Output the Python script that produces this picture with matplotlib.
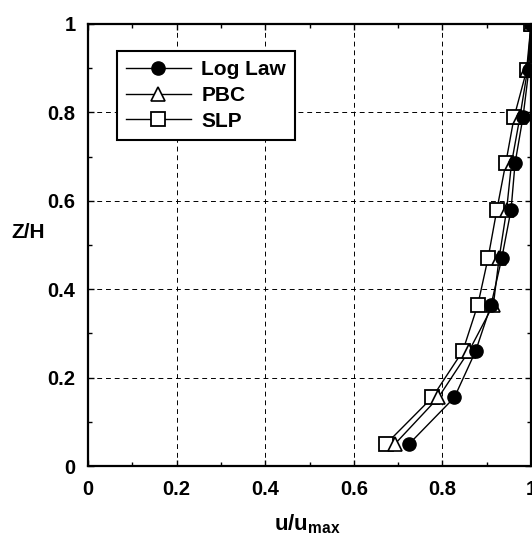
import matplotlib
matplotlib.use('Agg')
import matplotlib.pyplot as plt
from matplotlib.ticker import MultipleLocator

plt.rcParams['font.family'] = ['Liberation Sans', 'DejaVu Sans']
plt.rcParams['font.weight'] = 'bold'
plt.rcParams['mathtext.fontset'] = 'custom'
plt.rcParams['mathtext.bf'] = 'Liberation Sans:bold'
plt.rcParams['mathtext.rm'] = 'Liberation Sans:bold'

# perfis de velocidade adimensional (u/umax) em funcao de Z/H
z_h = [0.05, 0.155, 0.26, 0.365, 0.47, 0.58, 0.685, 0.79, 0.895, 1.0]
log_law = [0.725, 0.827, 0.875, 0.910, 0.934, 0.955, 0.964, 0.982, 0.995, 1.0]
pbc = [0.693, 0.791, 0.860, 0.915, 0.928, 0.945, 0.956, 0.975, 0.992, 1.0]
slp = [0.673, 0.777, 0.846, 0.880, 0.903, 0.923, 0.943, 0.962, 0.990, 1.0]

fig = plt.figure(figsize=(5.32, 5.37), dpi=100)
ax = fig.add_axes([88/532, 71/537, 443/532, 442/537])

# Log Law por cima dos outros marcadores
ax.plot(slp, z_h, '-s', color='black', lw=1.0, markersize=9.5,
        markerfacecolor='white', markeredgewidth=1.3, label='SLP', zorder=3)
ax.plot(pbc, z_h, '-^', color='black', lw=1.0, markersize=9.5,
        markerfacecolor='white', markeredgewidth=1.2, label='PBC', zorder=4)
ax.plot(log_law, z_h, '-o', color='black', lw=1.0, markersize=9.5,
        markerfacecolor='black', label='Log Law', zorder=5)

ax.set_xlim(0, 1)
ax.set_ylim(0, 1)
ax.xaxis.set_major_locator(MultipleLocator(0.2))
ax.yaxis.set_major_locator(MultipleLocator(0.2))
ax.xaxis.set_minor_locator(MultipleLocator(0.1))
ax.yaxis.set_minor_locator(MultipleLocator(0.1))
ax.xaxis.set_major_formatter(plt.FuncFormatter(lambda v, p: f'{v:g}'))
ax.yaxis.set_major_formatter(plt.FuncFormatter(lambda v, p: f'{v:g}'))

ax.grid(True, which='major', color='black', linestyle=(0, (5, 4)), lw=0.7)
ax.tick_params(which='both', direction='in', top=True, right=True,
               labelsize=14.5, width=1.0)
ax.tick_params(which='major', length=4)
ax.tick_params(axis='x', which='major', pad=10)
ax.tick_params(axis='y', which='major', pad=9)
ax.tick_params(which='minor', length=3)
for s in ax.spines.values():
    s.set_linewidth(1.6)

ax.set_ylabel('Z/H', rotation=0, fontsize=15, fontweight='bold')
ax.yaxis.set_label_coords(-0.135, 0.507)
ax.set_xlabel(r'$\mathbf{u/u_{max}}$', fontsize=16)
ax.xaxis.set_label_coords(0.495, -0.105)

# legenda na ordem Log Law, PBC, SLP
h, l = ax.get_legend_handles_labels()
leg = ax.legend(h[::-1], l[::-1], loc='upper left',
                bbox_to_anchor=(0.065, 0.939),
                borderaxespad=0, fancybox=False, framealpha=1,
                edgecolor='black', handlelength=3.1, handletextpad=0.5,
                labelspacing=0.32, borderpad=0.45,
                prop={'size': 15, 'weight': 'bold'})
leg.get_frame().set_linewidth(1.5)

fig.savefig('out.png', dpi=100)
